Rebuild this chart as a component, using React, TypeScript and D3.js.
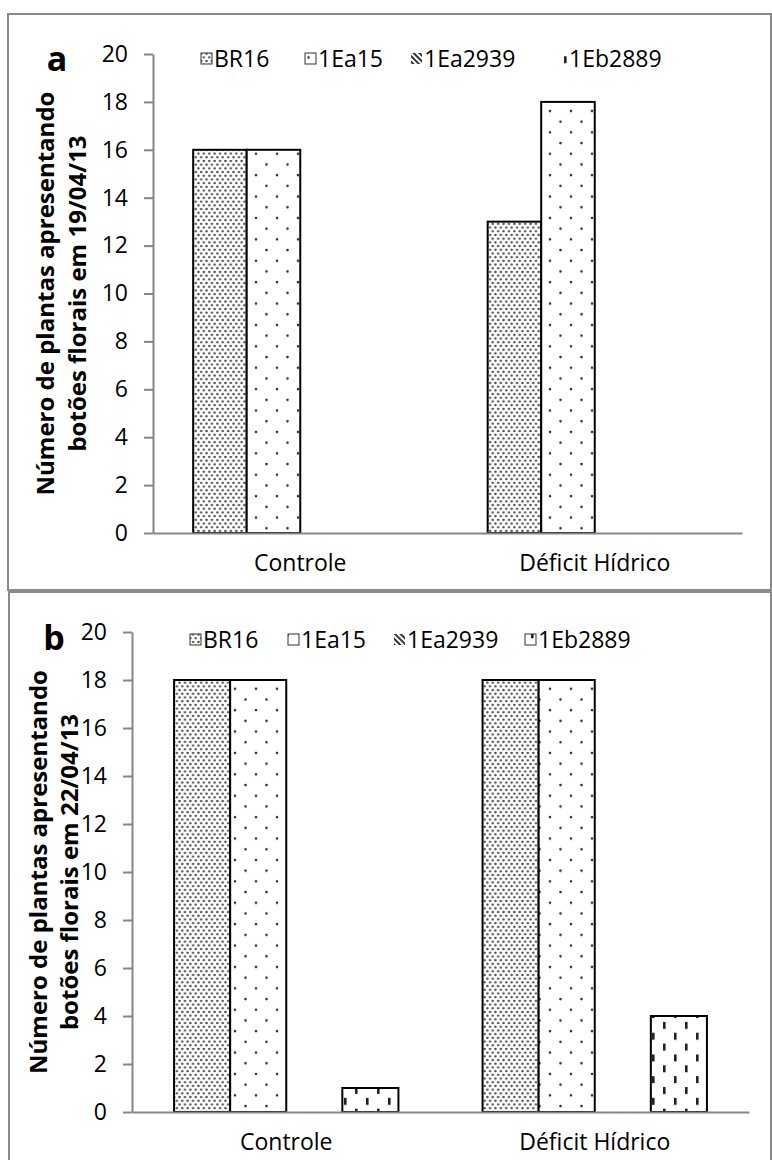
import { useEffect, useRef } from "react";
import * as d3 from "d3";

const categories = ["Controle", "Déficit Hídrico"];
const seriesNames = ["BR16", "1Ea15", "1Ea2939", "1Eb2889"];
const yTicks = [0, 2, 4, 6, 8, 10, 12, 14, 16, 18, 20];

// painel a — 19/04/13
const br16A = [16, 13];
const ea15A = [16, 18];
const ea2939A = [0, 0];
const eb2889A = [0, 0];

// painel b — 22/04/13
const br16B = [18, 18];
const ea15B = [18, 18];
const ea2939B = [0, 0];
const eb2889B = [1, 4];

const titleLine1 = "Número de plantas apresentando";
const titleLine2A = "botões florais em 19/04/13";
const titleLine2B = "botões florais em 22/04/13";

const patternIds = ["pat-br16", "pat-1ea15", "pat-1ea2939", "pat-1eb2889"];
const FONT = "'Open Sans', 'Liberation Sans', sans-serif";

interface PanelLayout {
  letter: string;
  values: number[][];
  line2: string;
  frame: { x: number; y: number; w: number; h: number };
  plot: { left: number; right: number; top: number; bottom: number };
  legendY: number;
  legendX: number[];
  legendBorder: boolean[];
  titleX: [number, number];
  letterPos: [number, number];
}

const panels: PanelLayout[] = [
  {
    letter: "a",
    values: [br16A, ea15A, ea2939A, eb2889A],
    line2: titleLine2A,
    frame: { x: 8, y: 14, w: 763, h: 576 },
    plot: { left: 153, right: 742, top: 54, bottom: 533 },
    legendY: 59,
    legendX: [201, 305, 411, 556],
    legendBorder: [true, true, false, false],
    titleX: [45, 77],
    letterPos: [57, 59],
  },
  {
    letter: "b",
    values: [br16B, ea15B, ea2939B, eb2889B],
    line2: titleLine2B,
    frame: { x: 9, y: 592, w: 762, h: 580 },
    plot: { left: 132, right: 749, top: 632, bottom: 1112 },
    legendY: 640,
    legendX: [190, 288, 394, 525],
    legendBorder: [true, true, false, true],
    titleX: [38, 69],
    letterPos: [54, 638],
  },
];

const App: React.FC = () => {
  const svgRef = useRef<SVGSVGElement>(null);

  useEffect(() => {
    document.body.style.margin = "0";
    if (!svgRef.current) return;

    const svg = d3.select(svgRef.current);
    svg.selectAll("*").remove();

    // Fill patterns (Excel-like textures)
    const defs = svg.append("defs");

    const p1 = defs.append("pattern").attr("id", patternIds[0]).attr("patternUnits", "userSpaceOnUse")
      .attr("width", 5.4).attr("height", 7.4);
    p1.append("rect").attr("width", 5.4).attr("height", 7.4).attr("fill", "#fff");
    p1.append("circle").attr("cx", 1.35).attr("cy", 1.85).attr("r", 1.25).attr("fill", "#4a4a4a");
    p1.append("circle").attr("cx", 4.05).attr("cy", 5.55).attr("r", 1.25).attr("fill", "#4a4a4a");

    const p2 = defs.append("pattern").attr("id", patternIds[1]).attr("patternUnits", "userSpaceOnUse")
      .attr("width", 21).attr("height", 21.4);
    p2.append("rect").attr("width", 21).attr("height", 21.4).attr("fill", "#fff");
    p2.append("circle").attr("cx", 4).attr("cy", 4).attr("r", 1.3).attr("fill", "#333");
    p2.append("circle").attr("cx", 14.5).attr("cy", 14.7).attr("r", 1.3).attr("fill", "#333");

    const p3 = defs.append("pattern").attr("id", patternIds[2]).attr("patternUnits", "userSpaceOnUse")
      .attr("width", 4).attr("height", 4).attr("patternTransform", "rotate(45)");
    p3.append("rect").attr("width", 4).attr("height", 4).attr("fill", "#fff");
    p3.append("rect").attr("width", 4).attr("height", 2).attr("fill", "#333");

    const p4 = defs.append("pattern").attr("id", patternIds[3]).attr("patternUnits", "userSpaceOnUse")
      .attr("width", 22).attr("height", 21.7);
    p4.append("rect").attr("width", 22).attr("height", 21.7).attr("fill", "#fff");
    p4.append("rect").attr("x", 3).attr("y", 2).attr("width", 2.6).attr("height", 7).attr("fill", "#222");
    p4.append("rect").attr("x", 14).attr("y", 12.85).attr("width", 2.6).attr("height", 7).attr("fill", "#222");

    panels.forEach((p) => {
      const g = svg.append("g");

      // panel frame
      g.append("rect")
        .attr("x", p.frame.x)
        .attr("y", p.frame.y)
        .attr("width", p.frame.w)
        .attr("height", p.frame.h)
        .attr("fill", "none")
        .attr("stroke", "#8a8a8a")
        .attr("stroke-width", 2);

      // scales
      const x0 = d3.scaleBand<string>().domain(categories).range([p.plot.left, p.plot.right]).padding(0);
      const x1 = d3
        .scaleBand<string>()
        .domain(seriesNames)
        .range([0, x0.bandwidth()])
        .paddingInner(0)
        .paddingOuter(0.75); // gap width 150%
      const y = d3.scaleLinear().domain([0, 20]).range([p.plot.bottom, p.plot.top]);

      // y axis
      const yAxis = g
        .append("g")
        .attr("transform", `translate(${p.plot.left},0)`)
        .call(d3.axisLeft(y).tickValues(yTicks).tickSize(9).tickSizeOuter(0).tickPadding(16));
      yAxis.select(".domain").attr("stroke", "#868686").attr("stroke-width", 2);
      yAxis.selectAll(".tick line").attr("stroke", "#868686").attr("stroke-width", 2);
      yAxis.selectAll(".tick text").attr("font-family", FONT).attr("font-size", 23).attr("fill", "#000");

      // bars
      seriesNames.forEach((s, si) => {
        g.append("g")
          .selectAll("rect")
          .data(p.values[si].map((v, ci) => ({ cat: categories[ci], v })).filter((d) => d.v > 0))
          .enter()
          .append("rect")
          .attr("x", (d) => (x0(d.cat) ?? 0) + (x1(s) ?? 0))
          .attr("y", (d) => y(d.v))
          .attr("width", x1.bandwidth())
          .attr("height", (d) => y(0) - y(d.v))
          .attr("fill", `url(#${patternIds[si]})`)
          .attr("stroke", "#000")
          .attr("stroke-width", 2);
      });

      // x axis
      const xAxis = g
        .append("g")
        .attr("transform", `translate(0,${p.plot.bottom})`)
        .call(d3.axisBottom(x0).tickSize(0).tickSizeOuter(0).tickPadding(22));
      xAxis.select(".domain").attr("stroke", "#868686").attr("stroke-width", 2);
      xAxis.selectAll(".tick text").attr("font-family", FONT).attr("font-size", 23).attr("fill", "#000");

      // legend
      seriesNames.forEach((s, si) => {
        const lx = p.legendX[si];
        g.append("rect")
          .attr("x", lx)
          .attr("y", p.legendY - 6)
          .attr("width", 11)
          .attr("height", 11)
          .attr("fill", `url(#${patternIds[si]})`)
          .attr("stroke", p.legendBorder[si] ? "#333" : "none")
          .attr("stroke-width", 1);
        g.append("text")
          .attr("x", lx + 13)
          .attr("y", p.legendY)
          .attr("dy", "0.36em")
          .attr("font-family", FONT)
          .attr("font-size", 23)
          .attr("fill", "#000")
          .text(s);
      });

      // y title (two lines, rotated)
      const cy = (p.plot.top + p.plot.bottom) / 2;
      [titleLine1, p.line2].forEach((t, i) => {
        g.append("text")
          .attr("transform", `translate(${p.titleX[i]},${cy}) rotate(-90)`)
          .attr("text-anchor", "middle")
          .attr("dy", "0.36em")
          .attr("font-family", FONT)
          .attr("font-size", 24)
          .attr("font-weight", "bold")
          .attr("fill", "#000")
          .text(t);
      });

      // panel letter
      g.append("text")
        .attr("x", p.letterPos[0])
        .attr("y", p.letterPos[1])
        .attr("dy", "0.36em")
        .attr("text-anchor", "middle")
        .attr("font-family", FONT)
        .attr("font-size", 34)
        .attr("font-weight", "bold")
        .attr("fill", "#000")
        .text(p.letter);
    });
  }, []);

  return <svg ref={svgRef} width={772} height={1160} style={{ display: "block" }} />;
};

export default App;
